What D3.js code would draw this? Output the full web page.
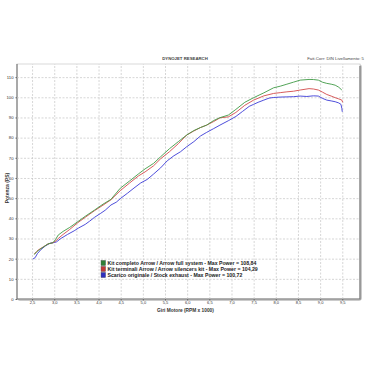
<!DOCTYPE html>
<html><head><meta charset="utf-8">
<script src="https://cdn.jsdelivr.net/npm/d3@7"></script>
<style>html,body{margin:0;padding:0;background:#fff;}svg{display:block;}</style>
</head><body>
<script>
const title = "DYNOJET RESEARCH";
const headerRight = "Fatt.Corr: DIN  Livellamento: 5";
const xTitle = "Giri Motore (RPM x 1000)";
const yTitle = "Potenza (PS)";
const xTicks = [2.5,3.0,3.5,4.0,4.5,5.0,5.5,6.0,6.5,7.0,7.5,8.0,8.5,9.0,9.5];
const yTicks = [0,10,20,30,40,50,60,70,80,90,100,110];
const seriesNames = [
  "Kit completo Arrow / Arrow full system - Max Power = 108,84",
  "Kit terminali Arrow / Arrow silencers kit - Max Power = 104,29",
  "Scarico originale / Stock exhaust - Max Power = 100,72"
];
const seriesColors = ["#3f9a45","#d24a4a","#3a3ad6"];

const rpmFull = [2.55,2.6,2.64,2.75,2.86,2.97,3.03,3.09,3.2,3.35,3.53,3.7,3.91,4.1,4.28,4.49,4.7,4.9,5.05,5.24,5.4,5.6,5.8,5.99,6.15,6.3,6.44,6.6,6.74,6.93,7.1,7.3,7.5,7.73,7.95,8.1,8.25,8.4,8.55,8.75,8.85,8.96,9.05,9.15,9.25,9.34,9.42,9.49];
const powFull = [22.0,23.3,24.0,25.7,27.3,27.9,29.5,31.7,33.5,35.5,38.3,41.0,44.1,47.0,49.4,54.9,58.5,62.0,64.5,67.2,70.5,74.5,78.0,81.3,83.5,85.0,86.2,88.5,89.9,91.2,94.0,97.5,99.8,102.2,104.7,105.5,106.5,107.5,108.5,108.84,108.8,108.5,107.5,106.9,106.5,106.0,105.0,103.6];

const rpmSil = [2.55,2.6,2.64,2.75,2.86,2.97,3.05,3.09,3.2,3.35,3.53,3.7,3.91,4.1,4.28,4.49,4.7,4.9,5.05,5.24,5.4,5.6,5.8,5.99,6.15,6.3,6.44,6.6,6.74,6.93,7.1,7.3,7.5,7.73,7.95,8.1,8.25,8.4,8.55,8.75,8.85,8.96,9.05,9.15,9.25,9.34,9.42,9.49,9.51];
const powSil = [22.3,23.5,24.3,25.8,27.3,27.9,29.0,30.0,32.0,34.5,37.8,40.5,43.8,46.5,49.2,53.7,57.5,61.0,63.0,66.0,69.5,73.0,77.0,81.3,83.3,85.0,86.2,88.0,89.8,90.3,92.5,96.0,98.6,100.7,101.9,102.3,102.7,103.0,103.6,104.29,104.1,103.6,102.6,101.4,100.6,99.8,99.2,98.6,97.5];

const rpmStock = [2.52,2.57,2.62,2.7,2.8,2.9,3.0,3.05,3.15,3.3,3.45,3.55,3.7,3.8,3.91,4.05,4.15,4.28,4.4,4.5,4.65,4.8,4.95,5.1,5.24,5.4,5.55,5.7,5.85,5.99,6.15,6.3,6.44,6.6,6.74,6.93,7.1,7.25,7.4,7.5,7.6,7.73,7.85,7.95,8.1,8.25,8.4,8.55,8.7,8.85,8.96,9.05,9.15,9.25,9.34,9.42,9.47,9.49,9.5];
const powStock = [19.8,20.5,22.5,24.5,26.3,27.6,28.0,28.3,30.0,32.0,33.8,35.2,37.0,38.6,40.5,42.5,44.0,46.6,48.0,49.9,52.4,55.0,57.5,59.3,61.9,65.0,68.5,71.0,73.0,75.5,78.0,80.8,82.6,84.5,86.2,88.4,90.5,93.0,95.5,96.5,97.5,98.6,99.6,99.9,100.1,100.2,100.3,100.6,100.4,100.72,100.6,99.5,98.6,98.2,97.8,97.2,96.5,94.5,92.8];

const W = 370, H = 370;
const L = 17, R = 360, T = 64, B = 299;
const svg = d3.select("body").append("svg").attr("width", W).attr("height", H);
const x = d3.scaleLinear().domain([2.16, 9.9]).range([L, R]);
const y = d3.scaleLinear().domain([0, 116.5]).range([B, T]);
const font = "'Liberation Sans', Arial, sans-serif";

// frame shadow
svg.append("rect").attr("x", L+1).attr("y", T+1).attr("width", R-L).attr("height", B-T)
  .attr("fill", "none").attr("stroke", "#bbb").attr("stroke-width", 1.5).attr("rx", 2);
svg.append("rect").attr("x", L).attr("y", T).attr("width", R-L).attr("height", B-T)
  .attr("fill", "#fff").attr("stroke", "#cfcfcf").attr("stroke-width", 0.8);
svg.append("path").attr("d", `M${R},${T+2} L${R},${B} L${L},${B}`).attr("fill","none")
  .attr("stroke", "#777").attr("stroke-width", 1.2);
svg.append("line").attr("x1", L).attr("x2", L).attr("y1", T).attr("y2", B)
  .attr("stroke", "#666").attr("stroke-width", 1);

// grid
const gx = d3.axisBottom(x).tickValues(xTicks).tickSize(-(B-T)).tickFormat("");
svg.append("g").attr("transform", `translate(0,${B})`).call(gx)
  .call(g => g.select(".domain").remove())
  .call(g => g.selectAll("line").attr("stroke", "#c4c4c4").attr("stroke-dasharray", "2,1.5").attr("stroke-width", 0.7));
const gy = d3.axisLeft(y).tickValues(yTicks.filter(v => v > 0)).tickSize(-(R-L)).tickFormat("");
svg.append("g").attr("transform", `translate(${L},0)`).call(gy)
  .call(g => g.select(".domain").remove())
  .call(g => g.selectAll("line").attr("stroke", "#c4c4c4").attr("stroke-dasharray", "2,1.5").attr("stroke-width", 0.7));

// axis labels
const ax = d3.axisBottom(x).tickValues(xTicks).tickSize(1.5).tickPadding(1)
  .tickFormat(d => d3.format(".1f")(d).replace(".", ","));
svg.append("g").attr("transform", `translate(0,${B})`).call(ax)
  .call(g => g.select(".domain").remove())
  .call(g => g.selectAll("line").attr("stroke", "#666"))
  .call(g => g.selectAll("text").attr("font-size", 4).attr("font-family", font).attr("fill", "#333"));
const ay = d3.axisLeft(y).tickValues(yTicks).tickSize(1.5).tickPadding(2);
svg.append("g").attr("transform", `translate(${L},0)`).call(ay)
  .call(g => g.select(".domain").remove())
  .call(g => g.selectAll("line").attr("stroke", "#666"))
  .call(g => g.selectAll("text").attr("font-size", 4.2).attr("font-family", font).attr("fill", "#333"));

// titles
svg.append("text").attr("x", 185).attr("y", 59.5).attr("text-anchor", "middle")
  .attr("font-size", 4.3).attr("font-weight", "bold").attr("font-family", font).attr("fill", "#444").text(title);
svg.append("text").attr("x", 364).attr("y", 59.5).attr("text-anchor", "end")
  .attr("font-size", 4.3).attr("font-family", font).attr("fill", "#444").text(headerRight);
svg.append("text").attr("x", 185.5).attr("y", 311.5).attr("text-anchor", "middle")
  .attr("font-size", 4.8).attr("font-weight", "bold").attr("font-family", font).attr("fill", "#333").text(xTitle);
svg.append("text").attr("transform", "translate(8.5,188) rotate(-90)").attr("text-anchor", "middle")
  .attr("font-size", 5).attr("font-weight", "bold").attr("font-family", font).attr("fill", "#333").text(yTitle);

// lines
const series = [
  {rpm: rpmStock, pow: powStock, color: seriesColors[2]},
  {rpm: rpmSil, pow: powSil, color: seriesColors[1]},
  {rpm: rpmFull, pow: powFull, color: seriesColors[0]}
];
const line = d3.line().x(d => x(d[0])).y(d => y(d[1]));
series.forEach(s => {
  svg.append("path").datum(s.rpm.map((r, i) => [r, s.pow[i]]))
    .attr("d", line).attr("fill", "none").attr("stroke", s.color).attr("stroke-width", 0.9)
    .attr("stroke-linejoin", "round");
});

// legend
const boxColors = ["#2f7f36","#c43838","#2f2fc0"];
seriesNames.forEach((name, i) => {
  const yy = 263 + i * 6;
  svg.append("rect").attr("x", 101).attr("y", yy - 2.6).attr("width", 4.6).attr("height", 5.2)
    .attr("fill", boxColors[i]).attr("stroke", "#555").attr("stroke-width", 0.4);
  svg.append("text").attr("x", 107.5).attr("y", yy + 1.8).attr("font-size", 5.2)
    .attr("font-weight", "bold").attr("font-family", font).attr("fill", "#222").text(name);
});
</script>
</body></html>
